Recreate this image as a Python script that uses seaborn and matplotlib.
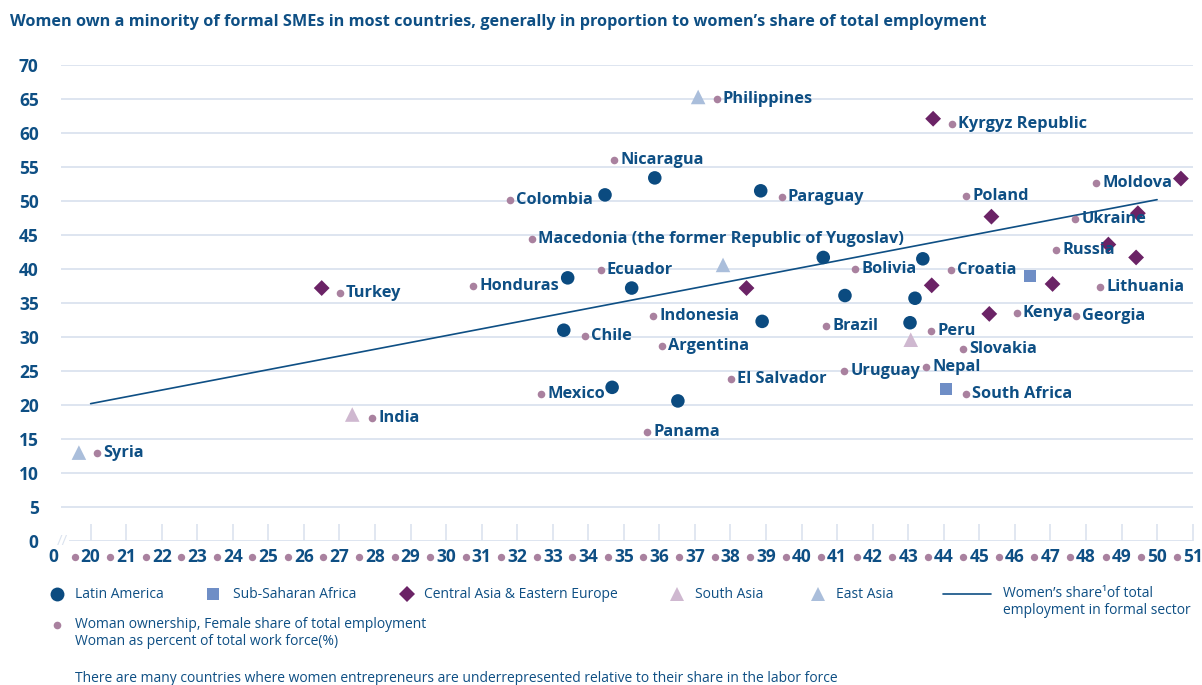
import numpy as np
import pandas as pd
import matplotlib.pyplot as plt
import seaborn as sns
from matplotlib.lines import Line2D
from matplotlib.transforms import blended_transform_factory

# regional markers (x = women's share of total employment, y = women ownership)
latam_x = [34.47, 35.87, 38.85, 33.42, 35.22, 40.61, 41.22, 38.89, 33.31, 43.41, 43.19, 43.05, 34.67, 36.52]
latam_y = [50.9, 53.4, 51.5, 38.7, 37.2, 41.7, 36.1, 32.3, 31.0, 41.5, 35.7, 32.1, 22.6, 20.6]
ssa_x = [46.42, 44.06]
ssa_y = [39.0, 22.4]
ceca_x = [26.5, 43.70, 50.67, 45.34, 49.46, 48.63, 49.41, 43.66, 47.06, 45.28, 38.45]
ceca_y = [37.2, 62.1, 53.3, 47.7, 48.2, 43.6, 41.7, 37.6, 37.8, 33.4, 37.2]
south_asia_x = [27.36, 43.07]
south_asia_y = [18.6, 29.6]
east_asia_x = [19.67, 37.09, 37.79]
east_asia_y = [13.0, 65.3, 40.6]

# country dots with labels
countries = ["Philippines", "Kyrgyz Republic", "Nicaragua", "Colombia", "Paraguay", "Poland",
             "Moldova", "Ukraine", "Macedonia (the former Republic of Yugoslav)", "Russia",
             "Ecuador", "Bolivia", "Croatia", "Honduras", "Turkey", "Lithuania", "Indonesia",
             "Kenya", "Georgia", "Brazil", "Peru", "Chile", "Argentina", "Slovakia", "Nepal",
             "Uruguay", "El Salvador", "Mexico", "South Africa", "India", "Panama", "Syria"]
country_x = [37.61, 44.23, 34.72, 31.79, 39.44, 44.62, 48.28, 47.69, 32.41, 47.15,
             34.35, 41.50, 44.19, 30.76, 27.01, 48.40, 35.82, 46.05, 47.71, 40.69,
             43.64, 33.90, 36.07, 44.54, 43.50, 41.19, 38.01, 32.67, 44.62, 27.91,
             35.65, 20.18]
country_y = [65.0, 61.3, 56.0, 50.1, 50.6, 50.7, 52.6, 47.3, 44.4, 42.8,
             39.9, 40.0, 39.9, 37.5, 36.5, 37.4, 33.1, 33.6, 33.1, 31.6,
             30.9, 30.1, 28.7, 28.2, 25.6, 25.0, 23.8, 21.6, 21.6, 18.1,
             16.0, 12.9]

# women's share of total employment in formal sector
line_x = [20, 50]
line_y = [20.2, 50.2]

x_ticks = list(range(20, 52))
y_ticks = list(range(0, 75, 5))

blue = "#0e4f84"
mauve = "#a9819f"
grid_col = "#dbe3ef"
region_colors = {"Latin America": "#0b4b80", "Sub-Saharan Africa": "#6f8ec6",
                 "Central Asia & Eastern Europe": "#6b2366", "South Asia": "#cfb8d0",
                 "East Asia": "#aabedb"}
region_markers = {"Latin America": "o", "Sub-Saharan Africa": "s",
                  "Central Asia & Eastern Europe": "D", "South Asia": "^", "East Asia": "^"}
region_sizes = {"Latin America": 95, "Sub-Saharan Africa": 75,
                "Central Asia & Eastern Europe": 65, "South Asia": 110, "East Asia": 110}

regions = pd.DataFrame({
    "x": latam_x + ssa_x + ceca_x + south_asia_x + east_asia_x,
    "y": latam_y + ssa_y + ceca_y + south_asia_y + east_asia_y,
    "region": (["Latin America"] * len(latam_x) + ["Sub-Saharan Africa"] * len(ssa_x)
               + ["Central Asia & Eastern Europe"] * len(ceca_x)
               + ["South Asia"] * len(south_asia_x) + ["East Asia"] * len(east_asia_x)),
})
dots = pd.DataFrame({"country": countries, "x": country_x, "y": country_y})

sns.set_theme(style="white")
plt.rcParams['font.family'] = ['Open Sans', 'DejaVu Sans']

fig = plt.figure(figsize=(12.02, 6.85), dpi=100)
ax = fig.add_axes([0.0507, 0.2102, 0.9418, 0.6949])

sns.lineplot(x=line_x, y=line_y, color=blue, linewidth=1.2, ax=ax, zorder=2)
sns.scatterplot(data=regions, x="x", y="y", hue="region", style="region", size="region",
                palette=region_colors, markers=region_markers, sizes=region_sizes,
                linewidth=0, legend=False, ax=ax, zorder=3)
sns.scatterplot(data=dots, x="x", y="y", color=mauve, s=30, linewidth=0, ax=ax, zorder=3)
for name, x, y in zip(countries, country_x, country_y):
    ax.annotate(name, (x, y), xytext=(4.5, 0), textcoords="offset points", ha="left",
                va="center", fontsize=11.8, fontweight="bold", color=blue, zorder=4)

ax.set_xlim(19.165, 51.01)
ax.set_ylim(0, 70)
ax.set_xticks(x_ticks)
ax.set_xticklabels([str(t) for t in x_ticks])
ax.set_yticks(y_ticks)
ax.set_yticklabels([str(t) for t in y_ticks])
ax.set_xlabel("")
ax.set_ylabel("")
ax.grid(axis="y", color=grid_col, linewidth=1.3, zorder=0)
ax.grid(axis="x", visible=False)
for s in ax.spines.values():
    s.set_visible(False)
ax.tick_params(axis="x", direction="in", length=12, width=1.2, color=grid_col,
               labelsize=12.5, labelcolor=blue, pad=5, bottom=True)
ax.tick_params(axis="y", length=0, labelsize=12.5, labelcolor=blue, pad=16)
for lab in ax.get_xticklabels() + ax.get_yticklabels():
    lab.set_fontweight("bold")

# little mauve bullets in front of the x tick labels, "0" origin and axis break
trans = blended_transform_factory(ax.transData, ax.transAxes)
ax.scatter([t - 0.45 for t in x_ticks], [-0.033] * len(x_ticks), s=28, color=mauve,
           linewidth=0, transform=trans, clip_on=False)
ax.text(18.96, -0.033, "0", transform=trans, ha="center", va="center", fontsize=12.5,
        fontweight="bold", color=blue)
ax.text(19.21, 0, "//", ha="center", va="center", fontsize=11, color=grid_col,
        bbox=dict(facecolor="white", edgecolor="none", pad=0.5), zorder=5, clip_on=False)

fig.text(10 / 1202, 1 - 22 / 685,
         "Women own a minority of formal SMEs in most countries, generally in proportion to women\u2019s share of total employment",
         fontsize=11.7, fontweight="bold", color=blue, ha="left", va="center")

# legend built by hand
W, H = 1202, 685
leg_row = 1 - 594 / H
legend_items = [(57, 75, "Latin America"), (213, 233, "Sub-Saharan Africa"),
                (407, 424, "Central Asia & Eastern Europe"), (677, 695, "South Asia"),
                (818, 836, "East Asia")]
leg_ms = {"Latin America": 10, "Sub-Saharan Africa": 8.5,
          "Central Asia & Eastern Europe": 8, "South Asia": 10, "East Asia": 10}
for mx, tx, lab in legend_items:
    fig.add_artist(Line2D([mx / W], [leg_row], marker=region_markers[lab], markersize=leg_ms[lab],
                          color=region_colors[lab], linestyle="none", markeredgewidth=0,
                          transform=fig.transFigure))
    fig.text(tx / W, leg_row, lab, fontsize=10, color=blue, ha="left", va="center")
fig.add_artist(Line2D([943 / W, 991 / W], [leg_row, leg_row], color=blue, linewidth=1.2,
                      transform=fig.transFigure))
fig.text(1003 / W, 1 - 602 / H, "Women\u2019s share\u00b9of total\nemployment in formal sector",
         fontsize=10, color=blue, ha="left", va="center", linespacing=1.2)
fig.add_artist(Line2D([57 / W], [1 - 625 / H], marker="o", markersize=5.5, color=mauve,
                      linestyle="none", markeredgewidth=0, transform=fig.transFigure))
fig.text(75 / W, 1 - 633 / H,
         "Woman ownership, Female share of total employment\nWoman as percent of total work force(%)",
         fontsize=10, color=blue, ha="left", va="center", linespacing=1.2)
fig.text(75 / W, 1 - 678 / H,
         "There are many countries where women entrepreneurs are underrepresented relative to their share in the labor force",
         fontsize=10, color=blue, ha="left", va="center")

fig.savefig("out.png", dpi=100)
